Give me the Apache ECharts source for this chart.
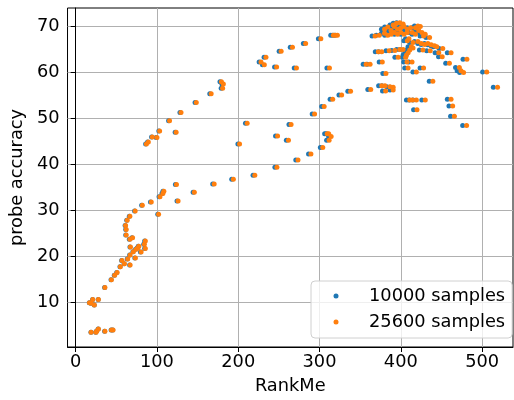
<!DOCTYPE html>
<html>
<head>
<meta charset="utf-8">
<script src="https://cdn.jsdelivr.net/npm/echarts@6/dist/echarts.min.js"></script>
<style>html,body{margin:0;padding:0;background:#fff;}#c{width:514px;height:400px;}</style>
</head>
<body>
<div id="c"></div>
<script>
const xTicks = [0, 100, 200, 300, 400, 500];
const yTicks = [10, 20, 30, 40, 50, 60, 70];
const seriesNames = ['10000 samples', '25600 samples'];

const rank25600 = [19,25,26,28,36,44,46, 17,19,23,21,28, 36,44,48,51, 55,57,60,64,67,73.5, 67,67.4,71,74.4,76.5,77.7,80.5,85.7,84.5,85.7, 66.7,70,62.2,62.2,61.4,63.4,66.7,73.2,82,93,102,126, 103.7,107.3,108.5,124,146,170.4, 194,220.4,247.6,273.5,289.4,304, 201.6,211,248.4,261.8,265, 309.4,311.3,314.3,311.8, 87,89.4,94.3,100,103.3,123.6,115.5,129.6,148.4,166.7,179.3,181.7,180.8, 293.9,305.7,316.2,327.2,338.2, 363,376.5,380.5,386.6,390.6,390.6,381.3, 411,414.3,419.1,430.1,419.9, 439.4,461.8,463.8,465.9,480.9, 519,505.7,481.3,472,474,477.2,459.8, 228,232.1,234.1,247.2,252.8,266.7,271.6,282.9,301.6,312.2,317,319.5,322, 357.3,362.2,377.2,381.7,408.9,419.1,428,413.8,396.7, 372.3,376.5,385.7,392.7,398.8,402.8, 368.3,373.5,380,384, 390.6,394.6,398.8,402.8,421, 380,384,388,392,396,400,404,408,412,418,422,424, 388,392,396,400,404,408,414,418,426,430,428, 435.4,410,408, 415,421,425.2,429.3,433.3,437.4,441.5,444.3, 413,415,411,409,407,406,407.6, 427.2,436.2,446.7,450.9,451.6,461.8];
const acc25600 = [3.5,3.5,3.8,4.2,3.7,4.0,4.0, 9.9,9.8,9.4,10.6,10.6, 13.2,14.9,15.9,16.5, 17.7,19.1,18.4,19.4,18.1,19.6, 20.3,22.0,21.0,21.5,21.8,22.2,20.9,21.7,22.6,23.3, 23.7,24.0,24.6,25.8,26.7,27.8,28.7,29.8,31.1,31.8,29.1,32.0, 32.9,33.6,34.1,35.6,33.9,35.7, 36.7,37.6,39.3,40.9,42.2,43.6, 44.4,48.9,46.1,45.2,48.6, 46.6,46.6,46.0,45.2, 44.4,44.8,45.9,45.8,47.2,46.9,49.4,51.2,53.4,55.3,57.9,57.4,56.5, 50.9,52.5,54.1,55.0,55.8, 56.2,57.0,57.0,56.8,56.7,56.1,55.9, 53.9,53.9,53.9,53.9,51.8, 58.0,54.1,52.6,50.4,48.4, 56.7,60.0,62.8,61.0,60.3,59.9,61.9, 62.2,61.6,63.2,61.1,64.5,65.4,60.9,66.2,67.2,60.9,68.0,68.0,68.0, 61.7,61.7,62.2,59.7,60.9,60.0,60.9,62.2,63.2, 64.4,64.4,64.6,64.7,64.9,64.9, 67.8,68.0,68.4,68.0, 70.2,70.6,70.7,70.4,70.0, 69.3,69.8,69.0,69.9,69.3,69.6,69.9,69.3,69.6,69.6,69.0,69.9, 68.2,68.6,68.2,68.6,68.2,68.6,68.6,68.2,68.6,68.2,67.8, 67.5,67.2,66.8, 66.4,66.6,66.2,66.0,66.2,65.9,65.7,65.5, 65.5,65.2,64.8,64.2,63.7,63.2,62.2, 64.8,64.6,64.2,63.3,65.1,64.2];

const rank10000 = [18.8,24.7,25.8,27.7,35.6,43.6,45.6, 16.8,18.8,22.8,20.8,27.7, 35.6,43.5,47.5,50.5, 54.5,56.5,59.5,63.4,66.4,72.8, 66.4,66.8,70.4,73.7,75.8,77,79.7,84.9,83.7,84.9, 66,69.3,61.6,61.6,60.8,62.8,66,72.5,81.2,92,101,124.7, 102.6,106.2,107.4,122.7,144.5,168.6, 192,218.2,245.1,270.8,286.5,301, 199.6,208.9,245.9,259.2,262.4, 306.3,308.2,311.2,308.7, 86.1,88.5,93.4,99,102.3,122.4,114.3,128.3,146.9,165,177.5,179.9,179, 291,302.6,313,323.9,334.8, 359.4,372.7,376.7,382.7,386.7,386.7,377.5, 406.9,410.2,414.9,425.8,415.7, 435,457.2,459.2,461.2,476.1, 513.8,500.6,476.5,467.3,469.3,472.4,455.2, 225.7,229.8,231.8,244.7,250.3,264,268.9,280.1,298.6,309.1,313.8,316.3,318.8, 353.7,358.6,373.4,377.9,404.8,414.9,423.7,409.7,392.7, 368.6,372.7,381.8,388.8,394.8,398.8, 364.6,369.8,376.2,380.2, 386.7,390.7,394.8,398.8,416.8, 376.2,380.2,384.1,388.1,392,396,400,403.9,407.9,413.8,417.8,419.8, 384.1,388.1,392,396,400,403.9,409.9,413.8,421.7,425.7,423.7, 431,405.9,403.9, 410.9,416.8,420.9,425,429,433,437.1,439.9, 408.9,410.9,406.9,404.9,402.9,401.9,403.5, 422.9,431.8,442.2,446.4,447.1,457.2];
const acc10000 = [3.5,3.5,3.8,4.2,3.7,4.0,4.0, 9.9,9.8,9.4,10.6,10.6, 13.2,14.9,15.9,16.5, 17.7,19.1,18.4,19.4,18.1,19.6, 20.3,22.0,21.0,21.5,21.8,22.2,20.9,21.7,22.6,23.3, 23.7,24.0,24.6,25.8,26.7,27.8,28.7,29.8,31.1,31.8,29.1,32.0, 32.9,33.6,34.1,35.6,33.9,35.7, 36.7,37.6,39.3,40.9,42.2,43.6, 44.4,48.9,46.1,45.2,48.6, 46.6,46.6,46.0,45.2, 44.4,44.8,45.9,45.8,47.2,46.9,49.4,51.2,53.4,55.3,57.9,57.4,56.5, 50.9,52.5,54.1,55.0,55.8, 56.2,57.0,57.0,56.8,56.7,56.1,55.9, 53.9,53.9,53.9,53.9,51.8, 58.0,54.1,52.6,50.4,48.4, 56.7,60.0,62.8,61.0,60.3,59.9,61.9, 62.2,61.6,63.2,61.1,64.5,65.4,60.9,66.2,67.2,60.9,68.0,68.0,68.0, 61.7,61.7,62.2,59.7,60.9,60.0,60.9,62.2,63.2, 64.4,64.4,64.6,64.7,64.9,64.9, 67.8,68.0,68.4,68.0, 70.2,70.6,70.7,70.4,70.0, 69.3,69.8,69.0,69.9,69.3,69.6,69.9,69.3,69.6,69.6,69.0,69.9, 68.2,68.6,68.2,68.6,68.2,68.6,68.6,68.2,68.6,68.2,67.8, 67.5,67.2,66.8, 66.4,66.6,66.2,66.0,66.2,65.9,65.7,65.5, 65.5,65.2,64.8,64.2,63.7,63.2,62.2, 64.8,64.6,64.2,63.3,65.1,64.2];

const zip = (a, b) => a.map((v, i) => [v, b[i]]);
const FONT = 'DejaVu Sans';
const FS = 17.8;

const chart = echarts.init(document.getElementById('c'), null, {renderer: 'canvas'});
chart.setOption({
  animation: false,
  backgroundColor: '#fff',
  textStyle: {fontFamily: FONT},
  grid: {left: 65, right: 1, top: 8, bottom: 53, show: true, borderColor: '#000', borderWidth: 1, backgroundColor: 'transparent'},
  xAxis: {
    type: 'value', min: -10, max: 538,
    name: 'RankMe', nameLocation: 'middle', nameGap: 30,
    nameTextStyle: {fontFamily: FONT, fontSize: FS, color: '#000'},
    axisLine: {show: true, lineStyle: {color: '#000', width: 1}},
    axisTick: {show: true, length: 5, lineStyle: {color: '#000'}, customValues: xTicks},
    axisLabel: {fontFamily: FONT, fontSize: FS, color: '#000', margin: 6, customValues: xTicks},
    splitLine: {show: true, lineStyle: {color: '#b0b0b0', width: 1}}
  },
  yAxis: {
    type: 'value', min: 0.3, max: 73.9,
    name: 'probe accuracy', nameLocation: 'middle', nameGap: 40, nameRotate: 90,
    nameTextStyle: {fontFamily: FONT, fontSize: FS, color: '#000'},
    axisLine: {show: true, lineStyle: {color: '#000', width: 1}},
    axisTick: {show: true, length: 5, lineStyle: {color: '#000'}, customValues: yTicks},
    axisLabel: {fontFamily: FONT, fontSize: FS, color: '#000', margin: 8, customValues: yTicks},
    splitLine: {show: true, lineStyle: {color: '#b0b0b0', width: 1}}
  },
  legend: {
    orient: 'vertical', left: 311, top: 281,
    data: seriesNames,
    icon: 'circle', itemWidth: 5, itemHeight: 5, itemGap: 6,
    padding: [5, 7, 6, 22.5],
    backgroundColor: 'rgba(255,255,255,0.8)', borderColor: '#d0d0d0', borderWidth: 1, borderRadius: 4,
    textStyle: {fontFamily: FONT, fontSize: FS, color: '#000', lineHeight: 20, padding: [0, 0, 0, 25.5]}
  },
  series: [
    {name: seriesNames[0], type: 'scatter', data: zip(rank10000, acc10000), symbolSize: 5, itemStyle: {color: '#1f77b4', opacity: 1}},
    {name: seriesNames[1], type: 'scatter', data: zip(rank25600, acc25600), symbolSize: 5, itemStyle: {color: '#ff7f0e', opacity: 1}}
  ]
});
</script>
</body>
</html>
